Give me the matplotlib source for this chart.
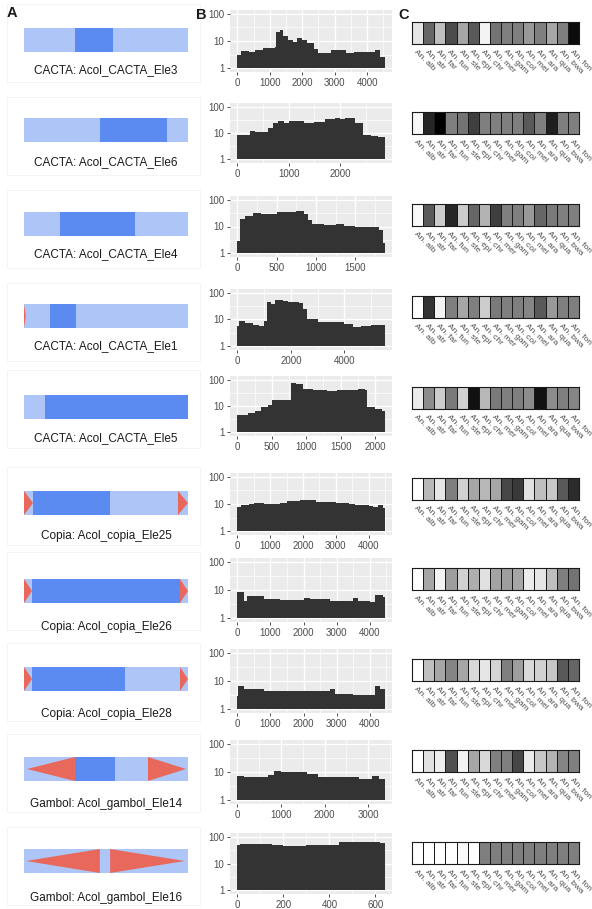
import numpy as np
import matplotlib
matplotlib.use("Agg")
import matplotlib.pyplot as plt
from matplotlib.patches import Rectangle, Polygon
from matplotlib.colors import LinearSegmentedColormap
from matplotlib.ticker import FixedLocator, NullFormatter

plt.rcParams['font.family'] = ['Liberation Sans', 'DejaVu Sans']

# ---- data ----
names = ["CACTA: Acol_CACTA_Ele3", "CACTA: Acol_CACTA_Ele6", "CACTA: Acol_CACTA_Ele4",
         "CACTA: Acol_CACTA_Ele1", "CACTA: Acol_CACTA_Ele5", "Copia: Acol_copia_Ele25",
         "Copia: Acol_copia_Ele26", "Copia: Acol_copia_Ele28", "Gambol: Acol_gambol_Ele14",
         "Gambol: Acol_gambol_Ele16"]
lengths = [4540, 2870, 1870, 5500, 2140, 4490, 4450, 4450, 3380, 640]

# coding domain (start, end) in bp
dom_start = [1410, 1330, 410, 870, 274, 247, 218, 218, 1050, 0]
dom_end = [2475, 2500, 1265, 1745, 2140, 2355, 4233, 2740, 1875, 0]

# terminal repeats: (start, end, direction)
repeats = [
    [],
    [],
    [],
    [(0, 60, 1)],
    [],
    [(0, 247, 1), (4216, 4490, 1)],
    [(0, 218, 1), (4233, 4450, 1)],
    [(0, 218, 1), (4233, 4450, 1)],
    [(60, 1050, -1), (2555, 3340, 1)],
    [(8, 296, -1), (336, 628, 1)],
]

# read depth along each element (step breakpoints and values)
cov_pos = [
    [0, 100, 350, 550, 800, 1150, 1200, 1300, 1400, 1550, 1700, 1850, 2000, 2150, 2350, 2500, 2900, 3350, 3600, 4250, 4400],
    [0, 250, 350, 600, 700, 800, 900, 1000, 1300, 1500, 1700, 1900, 2000, 2100, 2300, 2450, 2600, 2750],
    [0, 30, 100, 200, 300, 500, 750, 850, 900, 950, 1100, 1250, 1350, 1500, 1800, 1850],
    [0, 60, 300, 600, 800, 1000, 1100, 1250, 1400, 1700, 1900, 2300, 2450, 2600, 3000, 3500, 4000, 4300, 4600, 5000],
    [0, 150, 250, 350, 450, 500, 650, 780, 850, 950, 1100, 1300, 1450, 1650, 1750, 1850, 1880, 2000, 2100],
    [0, 100, 350, 500, 800, 1100, 1300, 1500, 1900, 2200, 2400, 3000, 3400, 3600, 4000, 4150, 4300, 4450],
    [0, 200, 280, 800, 1200, 1300, 2000, 2200, 2500, 2800, 3500, 3650, 4000, 4150, 4400],
    [0, 30, 200, 800, 2800, 2950, 3500, 4150, 4300],
    [0, 150, 450, 700, 850, 1000, 1400, 1600, 1850, 2800, 3100, 3250],
    [0, 10, 60, 150, 200, 300, 420, 440, 500, 560, 620],
]
cov_val = [
    [3.0, 4.2, 3.8, 4.8, 5.6, 6.0, 22, 25, 15, 11, 9, 12.5, 10.5, 8.5, 5.2, 3.6, 4.5, 3.5, 3.8, 4.6, 2.6],
    [8.5, 11.8, 10.8, 16, 25, 29, 25, 29, 25, 27, 35, 38, 34, 36, 24, 8.5, 7.8, 6.8],
    [2.8, 19, 25, 31, 29, 35, 38, 29, 17, 12.8, 11, 12.8, 10.5, 10, 7.4, 2.5],
    [5.5, 8.5, 7.5, 6.5, 5.5, 9, 45, 38, 55, 48, 45, 43, 25, 10, 8, 8.2, 7, 5.3, 5.6, 6],
    [4.6, 5.3, 6.7, 9.3, 10.7, 17, 16.3, 76, 66, 45, 40, 38, 42, 40, 45, 40, 8.8, 7.5, 6.5],
    [7.6, 9.1, 10, 11.3, 9.6, 10.4, 11.3, 12.5, 14.3, 13.6, 11.6, 11.3, 10.4, 8.9, 8.6, 7.6, 8.9, 7],
    [8.8, 4.0, 5.9, 4.6, 4.9, 4.3, 5.2, 4.6, 4.8, 4.0, 5.0, 4.2, 3.8, 6.4, 5.5],
    [3, 6.6, 5.0, 4.4, 5.0, 3.4, 3.2, 6.5, 5.0],
    [7.2, 6.4, 6.8, 8, 10.5, 10.2, 9.8, 8.5, 6.8, 5.8, 7, 5.5],
    [50, 53, 55, 50, 47, 48, 50, 63, 66, 62, 58],
]
x_steps = [1000, 1000, 500, 2000, 500, 1000, 1000, 1000, 1000, 200]

species = ["An. alb", "An. atr", "An. far", "An. fun", "An. ste", "An. epi", "An. chr", "An. mer",
           "An. gam", "An. col", "An. mel", "An. ara", "An. qua", "An. bwa", "An. fon"]
# relative signal per species (0 = none, 1 = highest)
heat = [
    [0.10, 0.60, 0.25, 0.70, 0.35, 0.65, 0.05, 0.55, 0.50, 0.50, 0.40, 0.50, 0.35, 0.50, 0.95],
    [0.03, 0.85, 1.00, 0.50, 0.55, 0.75, 0.50, 0.50, 0.50, 0.50, 0.65, 0.50, 0.88, 0.50, 0.50],
    [0.03, 0.65, 0.20, 0.85, 0.20, 0.60, 0.30, 0.75, 0.50, 0.50, 0.40, 0.60, 0.52, 0.50, 0.50],
    [0.00, 0.80, 0.05, 0.50, 0.35, 0.50, 0.20, 0.52, 0.50, 0.50, 0.48, 0.65, 0.40, 0.50, 0.50],
    [0.08, 0.45, 0.20, 0.52, 0.18, 0.93, 0.28, 0.52, 0.50, 0.50, 0.45, 0.93, 0.45, 0.50, 0.48],
    [0.00, 0.28, 0.10, 0.50, 0.18, 0.35, 0.28, 0.35, 0.72, 0.77, 0.12, 0.25, 0.22, 0.65, 0.83],
    [0.00, 0.35, 0.05, 0.38, 0.18, 0.32, 0.12, 0.36, 0.38, 0.35, 0.08, 0.10, 0.25, 0.50, 0.55],
    [0.00, 0.25, 0.35, 0.48, 0.35, 0.15, 0.10, 0.17, 0.50, 0.38, 0.15, 0.18, 0.22, 0.65, 0.60],
    [0.00, 0.12, 0.07, 0.68, 0.05, 0.35, 0.15, 0.50, 0.50, 0.72, 0.08, 0.22, 0.30, 0.48, 0.50],
    [0.00, 0.00, 0.00, 0.00, 0.02, 0.00, 0.50, 0.50, 0.50, 0.50, 0.50, 0.50, 0.50, 0.50, 0.50],
]

# ---- layout (pixels) ----
W, H = 592, 909
cov_top = [10, 103, 196, 289, 376, 473, 558, 649, 740, 833]
cov_bot = [72, 163, 257, 350, 436, 535, 622, 713, 804, 894]
bar_top = [28, 118, 212, 304, 395, 491, 579, 667, 757, 849]
lab_y = [70, 162, 254, 346, 438, 536, 627, 714, 804, 898]
heat_top = [22, 112, 204, 296, 387, 478, 568, 659, 750, 842]

LIGHT = "#adc6f7"
DARK = "#5b8bf0"
RED = "#e8695c"


def box(x0, y0, w, h):
    return [x0 / W, 1 - (y0 + h) / H, w / W, h / H]


fig = plt.figure(figsize=(W / 100, H / 100), dpi=100)
grey_cmap = LinearSegmentedColormap.from_list("wb", ["#ffffff", "#000000"])

for i in range(len(names)):
    L = lengths[i]

    # A: element structure
    fig.patches.append(Rectangle((7 / W, 1 - (cov_top[i] + 72) / H), 193 / W, 78 / H,
                                 transform=fig.transFigure, fill=False,
                                 edgecolor="#f2f2f2", lw=0.6))
    axa = fig.add_axes(box(24, bar_top[i], 164, 24))
    axa.set_xlim(0, L)
    axa.set_ylim(0, 1)
    axa.axis("off")
    axa.add_patch(Rectangle((0, 0), L, 1, color=LIGHT, lw=0))
    if dom_end[i] > dom_start[i]:
        axa.add_patch(Rectangle((dom_start[i], 0), dom_end[i] - dom_start[i], 1, color=DARK, lw=0))
    for s, e, d in repeats[i]:
        if d > 0:
            pts = [(s, 0), (e, 0.5), (s, 1)]
        else:
            pts = [(e, 0), (s, 0.5), (e, 1)]
        axa.add_patch(Polygon(pts, closed=True, color=RED, lw=0))
    fig.text(106 / W, 1 - lab_y[i] / H, names[i], ha="center", va="center",
             fontsize=8.5, color="#1a1a1a")

    # B: coverage
    axb = fig.add_axes(box(230, cov_top[i], 162, cov_bot[i] - cov_top[i]))
    axb.set_facecolor("#ebebeb")
    for sp in axb.spines.values():
        sp.set_visible(False)
    xs = np.array(cov_pos[i] + [L])
    ys = np.array(cov_val[i] + [cov_val[i][-1]])
    axb.fill_between(xs, 1, ys, step="post", color="#333333", lw=0, zorder=2)
    axb.set_yscale("log")
    axb.set_ylim(10 ** -0.14, 10 ** 2.14)
    axb.set_xlim(-0.05 * L, 1.05 * L)
    axb.yaxis.set_major_locator(FixedLocator([1, 10, 100]))
    axb.set_yticklabels(["1", "10", "100"])
    axb.yaxis.set_minor_locator(FixedLocator([10 ** 0.5, 10 ** 1.5]))
    axb.yaxis.set_minor_formatter(NullFormatter())
    st = x_steps[i]
    xt = np.arange(0, L + 1, st)
    axb.set_xticks(xt)
    axb.set_xticklabels([str(int(v)) for v in xt])
    axb.xaxis.set_minor_locator(FixedLocator(np.arange(st / 2, 1.05 * L, st)))
    axb.grid(which="major", color="white", lw=1.0)
    axb.grid(which="minor", color="white", lw=0.5)
    axb.set_axisbelow(True)
    axb.tick_params(which="major", length=2.5, width=0.6, color="#333333",
                    labelsize=7, labelcolor="#4d4d4d", pad=1.5)
    axb.tick_params(which="minor", length=0)

    # C: presence across species
    axc = fig.add_axes(box(412, heat_top[i], 167, 22))
    axc.pcolormesh(np.array([heat[i]]), cmap=grey_cmap, vmin=0, vmax=1,
                   edgecolors="#1a1a1a", linewidth=0.7)
    axc.set_xlim(0, len(species))
    axc.set_ylim(0, 1)
    for sp in axc.spines.values():
        sp.set_edgecolor("#1a1a1a")
        sp.set_linewidth(0.8)
    axc.set_yticks([])
    axc.set_xticks(np.arange(len(species)) + 0.5)
    axc.set_xticklabels(species, rotation=-45, ha="left", va="top",
                        rotation_mode="anchor", fontsize=6, color="#4d4d4d")
    axc.tick_params(axis="x", length=0, pad=3)

fig.text(12 / W, 1 - 13 / H, "A", fontsize=10.5, fontweight="bold", ha="center", va="center", color="#1a1a1a")
fig.text(201 / W, 1 - 15 / H, "B", fontsize=10.5, fontweight="bold", ha="center", va="center", color="#1a1a1a")
fig.text(404 / W, 1 - 15 / H, "C", fontsize=10.5, fontweight="bold", ha="center", va="center", color="#1a1a1a")

fig.savefig("out.png", dpi=100)
